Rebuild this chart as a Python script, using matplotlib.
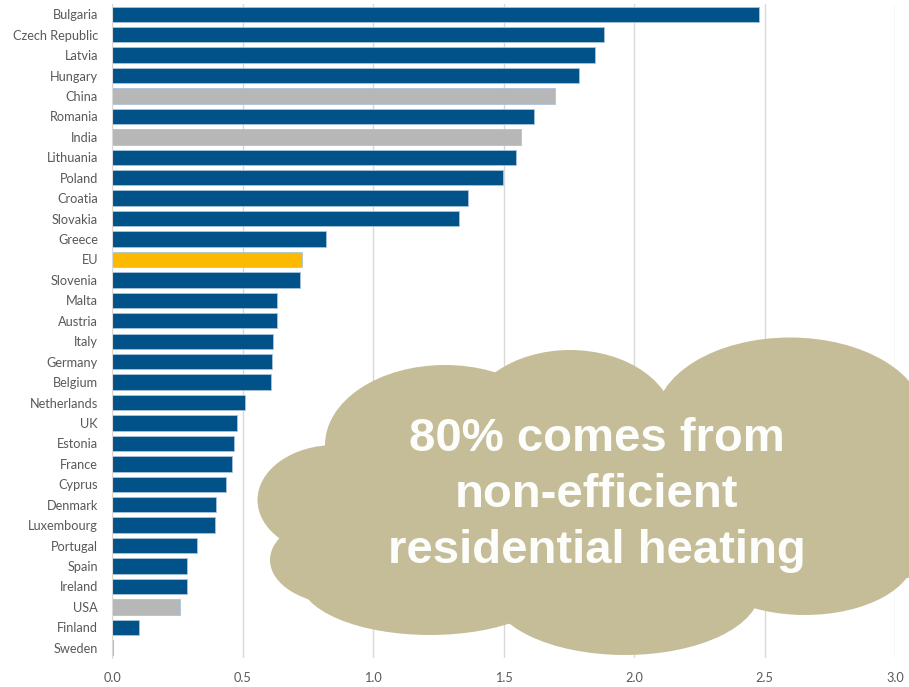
import matplotlib
matplotlib.use("Agg")
import matplotlib.pyplot as plt
from matplotlib.patches import Ellipse

countries = ["Bulgaria", "Czech Republic", "Latvia", "Hungary", "China", "Romania", "India",
             "Lithuania", "Poland", "Croatia", "Slovakia", "Greece", "EU", "Slovenia", "Malta",
             "Austria", "Italy", "Germany", "Belgium", "Netherlands", "UK", "Estonia", "France",
             "Cyprus", "Denmark", "Luxembourg", "Portugal", "Spain", "Ireland", "USA", "Finland",
             "Sweden"]
values = [2.48, 1.886, 1.849, 1.789, 1.697, 1.617, 1.567, 1.548, 1.499, 1.363, 1.33, 0.82,
          0.728, 0.72, 0.631, 0.631, 0.617, 0.612, 0.608, 0.508, 0.48, 0.467, 0.461, 0.436,
          0.40, 0.395, 0.327, 0.286, 0.286, 0.26, 0.105, 0.005]
groups = ["eu_member"] * 4 + ["other"] + ["eu_member"] + ["other"] + ["eu_member"] * 5 + \
         ["eu_avg"] + ["eu_member"] * 16 + ["other"] + ["eu_member"] * 2
xticks = [0.0, 0.5, 1.0, 1.5, 2.0, 2.5, 3.0]

colors = {"eu_member": "#02528a", "other": "#b7b7b7", "eu_avg": "#fbb900"}

W, H = 909, 687
fig = plt.figure(figsize=(W / 100, H / 100), dpi=100)
ax = fig.add_axes([112 / W, (H - 658) / H, (895 - 112) / W, 654 / H])

ypos = list(range(len(countries)))
bar_colors = [colors[g] for g in groups]
ax.barh(ypos, values, height=0.75, color=bar_colors, edgecolor="#a9c4dc", linewidth=0.6, zorder=3)
ax.set_ylim(len(countries) - 0.5, -0.5)
ax.set_xlim(0, 3.0)
ax.set_yticks(ypos)
ax.set_yticklabels(countries)
ax.set_xticks(xticks)
ax.set_xticklabels([f"{t:.1f}" for t in xticks])
ax.tick_params(axis="both", length=0, labelsize=9.2, labelcolor="#595959")
ax.tick_params(axis="y", pad=10)
ax.tick_params(axis="x", pad=10)
ax.grid(axis="x", color="#d9d9d9", linewidth=1, zorder=0)
for s in ["top", "right", "bottom"]:
    ax.spines[s].set_visible(False)
ax.spines["left"].set_color("#d9d9d9")
ax.spines["left"].set_zorder(4)
ax.set_axisbelow(True)
for lab in ax.get_xticklabels() + ax.get_yticklabels():
    lab.set_fontfamily(["Lato", "DejaVu Sans"])

# cloud made of ellipses (pixel coords, y from top)
cloud_color = "#c4bd97"
lobes = [
    (335, 500, 155, 110),
    (445, 445, 240, 160),
    (570, 425, 210, 150),
    (790, 420, 270, 165),
    (890, 480, 180, 200),
    (805, 555, 220, 120),
    (625, 590, 270, 130),
    (430, 580, 260, 110),
    (345, 560, 150, 90),
    (610, 505, 520, 210),
]
for cx, cy, w, h in lobes:
    e = Ellipse((cx / W, 1 - cy / H), w / W, h / H, transform=fig.transFigure,
                facecolor=cloud_color, edgecolor="none", zorder=10)
    fig.patches.append(e)

fig.text(597 / W, 1 - 495 / H, "80% comes from\nnon-efficient\nresidential heating",
         ha="center", va="center", color="#fdfdfb", fontsize=34, fontweight="bold",
         family=["Liberation Sans Narrow", "Liberation Sans", "DejaVu Sans"],
         linespacing=1.34, zorder=11)

fig.savefig("out.png", dpi=100)
